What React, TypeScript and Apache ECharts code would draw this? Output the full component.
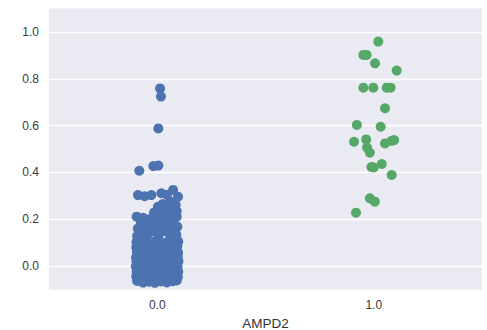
import React, { useEffect, useRef } from "react";
import * as echarts from "echarts";

// Category 0.0 (blue) — jittered x positions and values
const blueX = [
  0.013, 0.017, 0.005, -0.083, -0.018, 0.005,
  -0.089, -0.058, -0.027, 0.019, 0.045, 0.073, 0.096,
  0.003, 0.025, 0.050, 0.059, 0.085, 0.090,
  -0.015, 0.020, 0.055,
  -0.095, -0.065, -0.035, 0.000, 0.035, 0.070, 0.090,
  -0.075, 0.075, -0.040, 0.000, 0.040,
  -0.090, -0.050, -0.008, 0.020, 0.055, 0.093,
  -0.070, -0.025, 0.035, 0.075,
  -0.068, -0.093, -0.045, 0.006, 0.060, 0.088,
  -0.096, -0.072, -0.045, -0.008, 0.020, 0.050, 0.073, 0.097,
  -0.097, -0.068, -0.044, -0.013, 0.015, 0.044, 0.067, 0.093,
  -0.094, -0.071, -0.040, -0.015, 0.011, 0.041, 0.070, 0.096,
  -0.098, -0.067, -0.042, -0.012, 0.013, 0.038, 0.068, 0.095,
  -0.096, -0.069, -0.039, -0.014, 0.016, 0.043, 0.072, 0.098,
  -0.099, -0.070, -0.043, -0.017, 0.012, 0.040, 0.067, 0.094,
  -0.095, -0.068, -0.041, -0.013, 0.014, 0.042, 0.069, 0.097,
  -0.097, -0.072, -0.044, -0.016, 0.010, 0.039, 0.066, 0.095,
  -0.093, -0.066, -0.038, -0.011, 0.017, 0.044, 0.071, 0.090,
];
const blueY = [
  0.759, 0.724, 0.588, 0.407, 0.427, 0.429,
  0.303, 0.298, 0.303, 0.311, 0.305, 0.325, 0.296,
  0.253, 0.265, 0.261, 0.275, 0.262, 0.235,
  0.228, 0.236, 0.230,
  0.211, 0.206, 0.200, 0.204, 0.209, 0.200, 0.210,
  0.185, 0.182, 0.184, 0.188, 0.186,
  0.160, 0.166, 0.158, 0.170, 0.162, 0.168,
  0.146, 0.148, 0.150, 0.149,
  0.112, 0.128, 0.132, 0.127, 0.130, 0.134,
  0.103, 0.108, 0.101, 0.106, 0.099, 0.104, 0.109, 0.105,
  0.080, 0.084, 0.078, 0.083, 0.079, 0.085, 0.081, 0.086,
  0.061, 0.057, 0.063, 0.058, 0.062, 0.059, 0.064, 0.058,
  0.036, 0.041, 0.035, 0.040, 0.037, 0.042, 0.036, 0.039,
  0.019, 0.014, 0.020, 0.016, 0.021, 0.015, 0.018, 0.020,
  -0.002, -0.006, 0.001, -0.005, -0.001, -0.004, 0.002, -0.003,
  -0.024, -0.028, -0.021, -0.027, -0.023, -0.026, -0.020, -0.025,
  -0.045, -0.049, -0.043, -0.050, -0.046, -0.048, -0.044, -0.047,
  -0.064, -0.071, -0.067, -0.072, -0.066, -0.070, -0.065, -0.062,
];

// Category 1.0 (green)
const greenX = [
  1.021, 0.952, 0.967, 1.006, 1.106, 0.952, 0.998, 1.06, 1.078, 1.052,
  0.922, 1.032, 0.909, 0.965, 1.052, 1.083, 1.094, 0.969, 0.982, 0.989,
  1.0, 1.037, 1.083, 0.982, 1.005, 0.918,
];
const greenY = [
  0.959, 0.902, 0.902, 0.866, 0.835, 0.762, 0.762, 0.762, 0.762, 0.674,
  0.603, 0.595, 0.531, 0.541, 0.524, 0.535, 0.538, 0.506, 0.484, 0.423,
  0.421, 0.436, 0.389, 0.289, 0.275, 0.228,
];

const xTickLabels: Record<string, string> = { "0": "0.0", "1": "1.0" };
const yTickLabels: Record<string, string> = {
  "0": "0.0", "0.2": "0.2", "0.4": "0.4", "0.6": "0.6", "0.8": "0.8", "1": "1.0",
};
const xAxisName = "AMPD2";

export default function App() {
  const ref = useRef<HTMLDivElement>(null);
  useEffect(() => {
    if (!ref.current) return;
    const chart = echarts.init(ref.current, undefined, { renderer: "svg" });
    const font = "'Liberation Sans', Arial, sans-serif";
    const blue = blueX.map((x, i) => [x, blueY[i]]);
    const green = greenX.map((x, i) => [x, greenY[i]]);
    chart.setOption({
      animation: false,
      grid: {
        left: 49,
        right: 5,
        top: 8.6,
        bottom: 40.6,
        show: true,
        backgroundColor: "#EAEAF2",
        borderWidth: 0,
        containLabel: false,
        outerBoundsMode: "none",
      },
      xAxis: {
        type: "value",
        min: -0.5,
        max: 1.5,
        interval: 0.5,
        name: xAxisName,
        nameLocation: "middle",
        nameGap: 25,
        nameTextStyle: { fontFamily: font, fontSize: 13.5, color: "#333" },
        axisLine: { show: false },
        axisTick: { show: false },
        splitLine: { show: false },
        axisLabel: {
          margin: 10,
          fontFamily: font,
          fontSize: 12,
          color: "#3a3a3a",
          formatter: (v: number) => xTickLabels[String(Math.round(v * 10) / 10)] ?? "",
        },
      },
      yAxis: {
        type: "value",
        min: -0.1,
        max: 1.1,
        interval: 0.1,
        axisLine: { show: false },
        axisTick: { show: false },
        splitLine: {
          show: true,
          lineStyle: { color: ["rgba(0,0,0,0)", "#ffffff"], width: 1.3 },
        },
        axisLabel: {
          margin: 10,
          fontFamily: font,
          fontSize: 12,
          color: "#3a3a3a",
          formatter: (v: number) => yTickLabels[String(Math.round(v * 10) / 10)] ?? "",
        },
      },
      series: [
        {
          type: "scatter",
          data: blue,
          symbolSize: 10,
          itemStyle: { color: "#4C72B0", opacity: 1 },
        },
        {
          type: "scatter",
          data: green,
          symbolSize: 10,
          itemStyle: { color: "#55A868", opacity: 1 },
        },
      ],
    });
    return () => chart.dispose();
  }, []);
  return (
    <div
      ref={ref}
      style={{ position: "fixed", left: 0, top: 0, width: 487, height: 330, background: "#fff" }}
    />
  );
}
